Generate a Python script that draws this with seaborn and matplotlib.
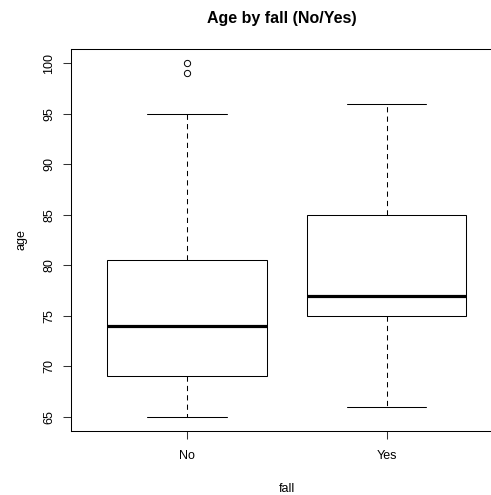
import pandas as pd
import matplotlib
matplotlib.use("Agg")
import matplotlib.pyplot as plt
import seaborn as sns

# ages per fall group (whiskers, quartiles, median, outliers)
fall_levels = ["No", "Yes"]
age_no = [65, 66, 68, 69, 71, 73, 74, 76, 79, 80.5, 95, 99, 100]
age_yes = [66, 72, 75, 76, 77, 80, 85, 90, 96]
y_ticks = [65, 70, 75, 80, 85, 90, 95, 100]

df = pd.DataFrame({
    "fall": ["No"] * len(age_no) + ["Yes"] * len(age_yes),
    "age": age_no + age_yes,
})

sns.set_style("white")
plt.rcParams["font.family"] = ["Liberation Sans", "DejaVu Sans"]

fig = plt.figure(figsize=(4.91, 4.95), dpi=100)
ax = fig.add_axes([70.5 / 491, (495 - 431) / 495, 432 / 491, 382 / 495])

lw = 0.75
sns.boxplot(
    data=df, x="fall", y="age", order=fall_levels, ax=ax,
    width=0.8, color="white", linecolor="black", linewidth=lw,
    whis=1.5,
    whiskerprops=dict(linestyle=(0, (5, 4)), linewidth=lw, color="black"),
    capprops=dict(linewidth=lw, color="black"),
    medianprops=dict(linewidth=2.3, color="black"),
    flierprops=dict(marker="o", markersize=4.5, markerfacecolor="none",
                    markeredgecolor="black", markeredgewidth=0.7),
)

ax.set_xlim(-0.58, 1.58)
ax.set_ylim(63.6, 101.4)
ax.set_yticks(y_ticks)
ax.set_yticklabels([str(t) for t in y_ticks], rotation=90, va="center")

for s in ax.spines.values():
    s.set_visible(True)
    s.set_color("black")
    s.set_linewidth(lw)

ax.tick_params(axis="both", direction="out", length=5.5, width=lw,
               bottom=True, left=True,
               color="#333333", labelsize=9, labelcolor="black")
ax.tick_params(axis="y", pad=5.5)
ax.tick_params(axis="x", pad=8)

ax.set_title("Age by fall (No/Yes)", fontsize=11.5, fontweight="bold", pad=19,
             x=0.49, color="black")
ax.set_xlabel("fall", fontsize=9, labelpad=15, color="black")
ax.set_ylabel("age", fontsize=9, labelpad=11, color="black")

fig.savefig("out.png", dpi=100)
